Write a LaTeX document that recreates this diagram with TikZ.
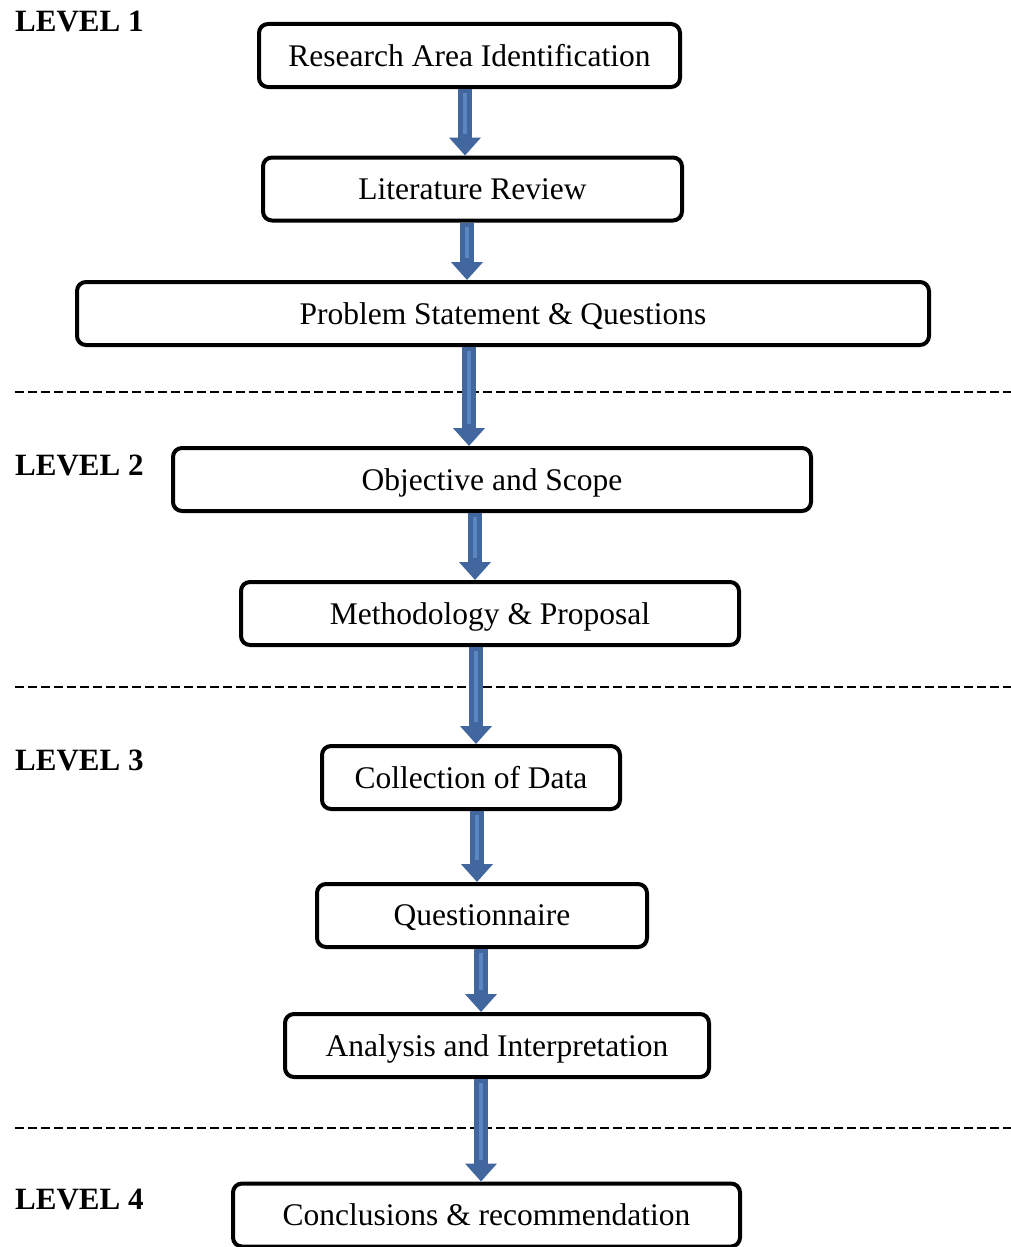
\documentclass[tikz,border=0pt]{standalone}
\usepackage{fontspec}
\setmainfont{Liberation Serif}
\usetikzlibrary{arrows.meta}
\definecolor{arrowblue}{HTML}{41679E}
\definecolor{arrowlight}{HTML}{5A86C2}
\tikzset{
  stepbox/.style={draw=black, line width=4pt, rounded corners=9pt, fill=white,
    minimum height=63pt, inner sep=0pt, text depth=-3pt, font=\fontsize{31.5}{34}\selectfont},
  levellabel/.style={anchor=west, inner sep=0pt, font=\fontsize{31}{34}\selectfont\bfseries},
  flow/.style={draw=arrowblue, line width=14pt, -{Triangle[width=31pt,length=18pt]}},
  sep/.style={draw=black, line width=1.6pt, dash pattern=on 9pt off 4pt}
}
\begin{document}
\begin{tikzpicture}[x=1pt,y=-1pt]
\useasboundingbox (0,0) rectangle (1011,1247);
% boxes
\node[stepbox, minimum width=421pt] (b1) at (469.5,55.5) {Research Area Identification};
\node[stepbox, minimum width=419pt] (b2) at (472.5,189) {Literature Review};
\node[stepbox, minimum width=852pt] (b3) at (503,313.5) {Problem Statement \& Questions};
\node[stepbox, minimum width=638pt] (b4) at (492,479.5) {Objective and Scope};
\node[stepbox, minimum width=498pt] (b5) at (490,613.5) {Methodology \& Proposal};
\node[stepbox, minimum width=298pt] (b6) at (471,777.5) {Collection of Data};
\node[stepbox, minimum width=330pt] (b7) at (482,915.5) {Questionnaire};
\node[stepbox, minimum width=424pt] (b8) at (497,1045.5) {Analysis and Interpretation};
\node[stepbox, minimum width=507pt] (b9) at (486.5,1215) {Conclusions \& recommendation};
% level labels
\node[levellabel] (l1) at (15,22) {LEVEL 1};
\node[levellabel] (l2) at (15,465) {LEVEL 2};
\node[levellabel] (l3) at (15,760) {LEVEL 3};
\node[levellabel] (l4) at (15,1200) {LEVEL 4};
% separators
\coordinate (s1a) at (15,392); \coordinate (s1b) at (1011,392);
\coordinate (s2a) at (15,687); \coordinate (s2b) at (1011,687);
\coordinate (s3a) at (15,1128); \coordinate (s3b) at (1011,1128);
\draw[sep] (s1a) -- (s1b);
\draw[sep] (s2a) -- (s2b);
\draw[sep] (s3a) -- (s3b);
% arrows
\draw[flow] (b1.south -| 465,0) -- (b2.north -| 465,0);
\draw[flow] (b2.south -| 467,0) -- (b3.north -| 467,0);
\draw[flow] (b3.south -| 469,0) -- (b4.north -| 469,0);
\draw[flow] (b4.south -| 475,0) -- (b5.north -| 475,0);
\draw[flow] (b5.south -| 476,0) -- (b6.north -| 476,0);
\draw[flow] (b6.south -| 477,0) -- (b7.north -| 477,0);
\draw[flow] (b7.south -| 481,0) -- (b8.north -| 481,0);
\draw[flow] (b8.south -| 481,0) -- (b9.north -| 481,0);
% light inner highlight of the arrow shafts
\foreach \a/\b/\x in {b1/b2/465,b2/b3/467,b3/b4/469,b4/b5/475,b5/b6/476,b6/b7/477,b7/b8/481,b8/b9/481}{
  \draw[arrowlight, line width=4pt] ([yshift=-4pt]\a.south -| \x,0) -- ([yshift=22pt]\b.north -| \x,0);
}
\end{tikzpicture}
\end{document}
